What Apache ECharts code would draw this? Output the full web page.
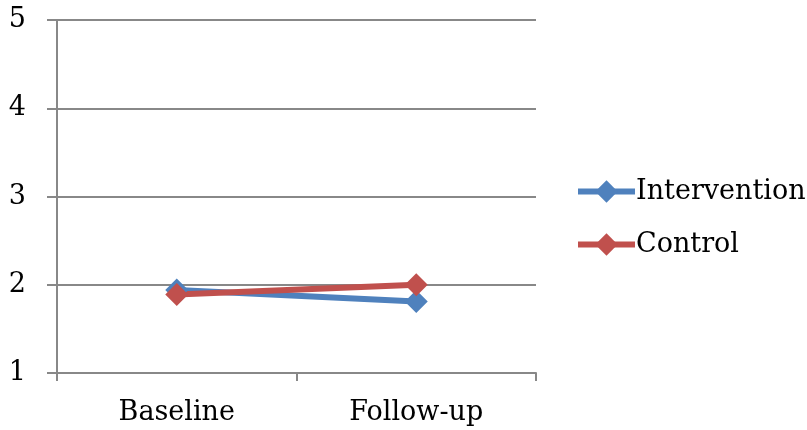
<!DOCTYPE html>
<html><head><meta charset="utf-8">
<script src="https://cdn.jsdelivr.net/npm/echarts@6/dist/echarts.min.js"></script>
<style>html,body{margin:0;padding:0;background:#fff}#c{width:807px;height:430px}</style>
</head><body><div id="c"></div>
<script>
var categories = ['Baseline', 'Follow-up'];
var intervention = [1.94, 1.81];
var control = [1.89, 2.0];
var yTicks = [1, 2, 3, 4, 5];

var FONT = 'DejaVu Serif';
var FS = 27;
var chart = echarts.init(document.getElementById('c'), null, {renderer: 'canvas'});
chart.setOption({
  animation: false,
  backgroundColor: '#fff',
  textStyle: {fontFamily: FONT},
  grid: {left: 57, right: 271, top: 20, bottom: 57, containLabel: false},
  legend: {
    orient: 'vertical', left: 570, top: 173,
    itemWidth: 57, itemHeight: 28, itemGap: 26,
    lineStyle: {width: 6},
    textStyle: {fontFamily: FONT, fontSize: FS, color: '#000', padding: [0,0,0,-4]},
    data: ['Intervention', 'Control']
  },
  xAxis: {
    type: 'category', data: categories, boundaryGap: true,
    axisLine: {lineStyle: {color: '#888', width: 2}},
    axisTick: {show: true, length: 8, lineStyle: {color: '#888', width: 2}},
    axisLabel: {fontFamily: FONT, fontSize: FS, color: '#000', margin: 26}
  },
  yAxis: {
    type: 'value', min: yTicks[0], max: yTicks[yTicks.length-1], interval: 1,
    axisLine: {show: true, lineStyle: {color: '#888', width: 2}},
    axisTick: {show: true, length: 10, lineStyle: {color: '#888', width: 2}},
    splitLine: {lineStyle: {color: '#888', width: 2}},
    axisLabel: {fontFamily: FONT, fontSize: FS, color: '#000', margin: 31}
  },
  series: [
    {name: 'Intervention', type: 'line', data: intervention, symbol: 'diamond', symbolSize: 23,
     lineStyle: {color: '#4F81BD', width: 6}, itemStyle: {color: '#4F81BD'}},
    {name: 'Control', type: 'line', data: control, symbol: 'diamond', symbolSize: 23,
     lineStyle: {color: '#C0504D', width: 6}, itemStyle: {color: '#C0504D'}}
  ]
});
</script></body></html>
